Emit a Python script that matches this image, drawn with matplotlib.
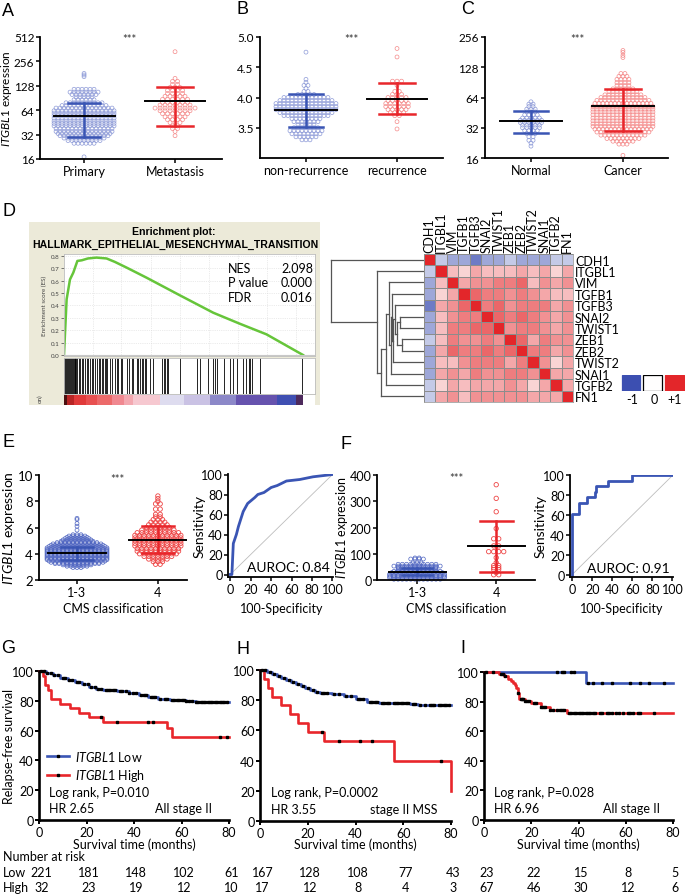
import numpy as np
import matplotlib
matplotlib.use('Agg')
import matplotlib.pyplot as plt
from matplotlib.colors import LinearSegmentedColormap
from matplotlib.lines import Line2D
from matplotlib.ticker import NullLocator
from matplotlib.transforms import blended_transform_factory

plt.rcParams['font.family'] = ['Lato', 'DejaVu Sans']
plt.rcParams['mathtext.fontset'] = 'custom'
plt.rcParams['mathtext.it'] = 'Lato:italic'
plt.rcParams['mathtext.rm'] = 'Lato'

BLUE = '#3a55b4'
RED = '#e8262b'
BLUE_DOT = '#8e9bd8'
RED_DOT = '#f58a8a'
BLUE_DOT2 = '#5066c2'
RED_DOT2 = '#ee4545'
ITG = r'$\it{ITGBL1}$ expression'
FS = 9

# ---------------- data ----------------
# A  (row level, dots per row)
a_cats = ['Primary', 'Metastasis']
a_prim_lv = [17, 25, 27, 29, 31, 33, 35, 38, 41, 44, 47, 51, 55, 59, 63, 68, 73, 79, 86, 93, 100, 107, 116, 166, 174, 182]
a_prim_n = [1, 6, 9, 11, 13, 14, 15, 15, 16, 16, 16, 16, 16, 16, 16, 15, 12, 10, 6, 5, 7, 8, 6, 1, 1, 1]
a_met_lv = [31, 35, 38, 41, 45, 49, 53, 58, 63, 68, 74, 80, 87, 95, 103, 112, 122, 133, 145, 158, 337]
a_met_n = [1, 1, 2, 2, 3, 4, 5, 6, 7, 9, 7, 6, 6, 5, 4, 4, 3, 2, 2, 1, 1]
a_mean = [53.8, 84]
a_lo = [30.3, 40.8]
a_hi = [78, 124]

# B
b_cats = ['non-recurrence', 'recurrence']
b_non_lv = [3.30, 3.35, 3.40, 3.45, 3.50, 3.55, 3.60, 3.65, 3.70, 3.75, 3.80, 3.85, 3.90, 3.95, 4.00, 4.05, 4.10, 4.15, 4.20, 4.25, 4.30, 4.75]
b_non_n = [3, 6, 8, 9, 7, 5, 7, 8, 12, 14, 16, 16, 16, 14, 12, 5, 2, 1, 2, 1, 1, 1]
b_rec_lv = [3.48, 3.60, 3.70, 3.75, 3.80, 3.85, 3.90, 3.95, 4.00, 4.05, 4.10, 4.20, 4.27, 4.67, 4.81]
b_rec_n = [1, 1, 2, 4, 5, 6, 6, 5, 5, 3, 2, 1, 3, 1, 1]
b_mean = [3.79, 3.98]
b_lo = [3.51, 3.73]
b_hi = [4.06, 4.24]

# C
c_cats = ['Normal', 'Cancer']
c_nor_lv = [21, 22.5, 24, 26, 28, 30, 32, 34, 36, 38, 40, 43, 46, 49, 52, 55, 58]
c_nor_n = [1, 1, 2, 2, 3, 4, 5, 5, 6, 6, 5, 4, 3, 3, 2, 2, 1]
c_can_lv = [17, 22, 23.5, 25, 27, 29, 31, 33, 35, 37.5, 40, 43, 46, 49, 52, 56, 60, 64, 68, 73, 78, 84, 90, 97, 104, 111, 160, 168, 180, 188]
c_can_n = [1, 3, 6, 9, 12, 14, 15, 16, 16, 16, 16, 16, 16, 16, 16, 15, 14, 12, 10, 8, 6, 4, 4, 4, 3, 2, 1, 1, 1, 1]
c_mean = [37, 53]
c_lo = [28.3, 29.5]
c_hi = [46.5, 78]

# D  GSEA
es_x = [0, 0.011, 0.025, 0.039, 0.056, 0.074, 0.10, 0.136, 0.178, 0.213, 0.262, 0.345, 0.485, 0.624, 0.735, 0.847, 1.0]
es_y = [0, 0.45, 0.61, 0.666, 0.76, 0.765, 0.78, 0.787, 0.78, 0.752, 0.706, 0.625, 0.482, 0.342, 0.253, 0.167, 0.0]
hits = [0.000, 0.004, 0.008, 0.012, 0.016, 0.020, 0.024, 0.028, 0.032, 0.036, 0.040, 0.044, 0.048, 0.052,
        0.056, 0.061, 0.067, 0.074, 0.081, 0.088, 0.095, 0.102, 0.109, 0.116, 0.123, 0.130, 0.136, 0.145,
        0.150, 0.157, 0.164, 0.171, 0.175, 0.181, 0.192, 0.199, 0.213, 0.220, 0.227, 0.237, 0.241, 0.262,
        0.273, 0.283, 0.290, 0.304, 0.311, 0.318, 0.325, 0.331, 0.338, 0.345, 0.359, 0.373, 0.412, 0.418,
        0.423, 0.429, 0.436, 0.485, 0.558, 0.568, 0.603, 0.624, 0.631, 0.638, 0.669, 0.694, 0.708, 0.724,
        0.747, 0.763, 0.774, 0.780, 0.788, 0.819, 0.996]
rank_edges = [0, 0.012, 0.04, 0.09, 0.14, 0.20, 0.25, 0.29, 0.40, 0.50, 0.61, 0.72, 0.89, 0.97, 1.0]
rank_cols = ['#4a1010', '#b82525', '#e03a3a', '#e85050', '#ec6a6a', '#f08890', '#f3a8b0', '#f6c8d0',
             '#dedcef', '#cac2e4', '#8c88c8', '#6653ae', '#3f4fb2', '#4d2a5c']
gsea_stats = [('NES', '2.098'), ('P value', '0.000'), ('FDR', '0.016')]

genes = ['CDH1', 'ITGBL1', 'VIM', 'TGFB1', 'TGFB3', 'SNAI2', 'TWIST1', 'ZEB1', 'ZEB2', 'TWIST2', 'SNAI1', 'TGFB2', 'FN1']
corr = np.array([
    [1.0, -0.3, -0.5, -0.5, -0.75, -0.5, -0.5, -0.3, -0.5, -0.5, -0.5, -0.3, -0.3],
    [-0.3, 1.0, 0.3, 0.2, 0.4, 0.3, 0.3, 0.3, 0.4, 0.3, 0.4, 0.2, 0.4],
    [-0.5, 0.3, 1.0, 0.4, 0.5, 0.5, 0.6, 0.6, 0.7, 0.3, 0.5, 0.4, 0.5],
    [-0.5, 0.2, 0.4, 1.0, 0.7, 0.6, 0.6, 0.5, 0.6, 0.5, 0.4, 0.3, 0.3],
    [-0.75, 0.4, 0.5, 0.7, 1.0, 0.6, 0.7, 0.5, 0.6, 0.6, 0.6, 0.4, 0.5],
    [-0.5, 0.3, 0.5, 0.6, 0.6, 1.0, 0.7, 0.6, 0.7, 0.6, 0.5, 0.4, 0.5],
    [-0.5, 0.3, 0.6, 0.6, 0.7, 0.7, 1.0, 0.5, 0.6, 0.6, 0.5, 0.4, 0.5],
    [-0.3, 0.3, 0.6, 0.5, 0.5, 0.6, 0.5, 1.0, 0.7, 0.4, 0.6, 0.5, 0.5],
    [-0.5, 0.4, 0.7, 0.6, 0.6, 0.7, 0.6, 0.7, 1.0, 0.6, 0.6, 0.4, 0.5],
    [-0.5, 0.3, 0.3, 0.5, 0.6, 0.6, 0.6, 0.4, 0.6, 1.0, 0.5, 0.2, 0.4],
    [-0.5, 0.4, 0.5, 0.4, 0.6, 0.5, 0.5, 0.6, 0.6, 0.5, 1.0, 0.4, 0.4],
    [-0.3, 0.2, 0.4, 0.3, 0.4, 0.4, 0.4, 0.5, 0.4, 0.2, 0.4, 1.0, 0.4],
    [-0.3, 0.4, 0.5, 0.3, 0.5, 0.5, 0.5, 0.5, 0.5, 0.4, 0.4, 0.4, 1.0]])
# dendrogram links: (child a, child b, height)
links = [(5, 6, 24), (7, 8, 22), (13, 14, 27), (4, 15, 29), (16, 9, 31), (3, 17, 32.5),
         (18, 10, 33.5), (2, 19, 35), (20, 11, 38), (21, 12, 43), (1, 22, 47), (0, 23, 93)]

# E
e_cats = ['1-3', '4']
e_low_lv = [2.95, 3.05, 3.15, 3.25, 3.35, 3.45, 3.55, 3.65, 3.75, 3.85, 3.95, 4.05, 4.15, 4.25, 4.35, 4.45,
            4.55, 4.65, 4.75, 4.85, 4.95, 5.05, 5.15, 5.25, 5.35, 5.45, 5.8, 6.1, 6.3, 6.6, 6.7]
e_low_n = [3, 6, 8, 12, 14, 15, 16, 16, 16, 16, 16, 16, 16, 16, 16, 16, 15, 14, 13, 11, 9, 8, 7, 6, 5, 3, 1, 1, 1, 1, 1]
e_high_lv = [3.2, 3.4, 3.6, 3.8, 4.0, 4.2, 4.4, 4.6, 4.8, 5.0, 5.2, 5.4, 5.6, 5.8, 6.0, 6.2, 6.4, 6.6, 6.8, 7.0, 7.4, 7.8, 8.0, 8.2, 8.4]
e_high_n = [2, 3, 5, 7, 9, 10, 10, 11, 11, 11, 11, 11, 10, 8, 6, 5, 4, 3, 2, 2, 2, 2, 1, 1, 1]
e_mean = [4.03, 5.04]
e_lo = [3.55, 4.05]
e_hi = [4.5, 6.1]
e_roc_x = [0, 1.6, 3, 6, 8, 10.5, 12.7, 17, 24, 27, 33, 40, 46, 55, 68, 81, 100]
e_roc_y = [0, 0, 31, 40, 48, 56, 63, 71, 77, 80, 82, 87, 89, 93.5, 95, 97.7, 100]

# F
f_low_lv = [3, 8, 13, 18, 23, 28, 33, 38, 43, 48, 53, 60, 65, 80, 84]
f_low_n = [12, 14, 14, 14, 14, 13, 12, 10, 10, 10, 12, 10, 3, 4, 2]
f_high_lv = [20, 28, 40, 47, 55, 66, 85, 108, 130, 157, 196, 260, 311, 363]
f_high_n = [2, 1, 2, 2, 2, 1, 1, 4, 2, 2, 1, 1, 1, 1]
f_mean = [30, 130]
f_lo = [18, 32]
f_hi = [45, 225]
f_roc_x = [0, 0, 6.5, 6.5, 14.5, 14.5, 22.6, 22.6, 24, 24, 35.5, 35.5, 59.7, 59.7, 100]
f_roc_y = [0, 61.1, 61.1, 72.2, 72.2, 77.8, 77.8, 83.3, 83.3, 88.9, 88.9, 94.4, 94.4, 100, 100]

# G/H/I  Kaplan-Meier (step times, survival %), censor times
g_low_t = [0, 3, 6, 9, 12, 15, 18, 21, 24, 27, 33, 38, 42, 46, 50, 55, 62, 66]
g_low_s = [100, 98.5, 97, 95.5, 94, 92.5, 91, 89.5, 88, 87, 86.5, 85.5, 84, 82.5, 81.2, 80.5, 79.8, 79]
g_low_c = [1, 2, 3.5, 5, 6.5, 8, 10, 11, 12.5, 14, 16, 17, 19, 20.5, 22, 23.5, 25, 26, 28, 29, 30, 31, 32, 34,
           35, 36.5, 38, 39.5, 41, 43, 44, 45, 47, 48, 49, 51, 53, 54, 56, 57, 58, 59, 60, 61, 62, 63, 64.5,
           66, 67, 68, 69, 70, 71, 72, 73, 74, 75, 76, 77, 78, 79]
g_high_t = [0, 1.7, 2.7, 3.8, 4.9, 8.7, 13, 17, 21, 27, 54, 56]
g_high_s = [100, 96.9, 90.6, 87.5, 81.3, 78.1, 75, 71.9, 68.8, 65.6, 61.5, 55.4]
g_high_c = [26, 33, 46, 48, 76, 79]
g_risk_low = [221, 181, 148, 102, 61]
g_risk_high = [32, 23, 19, 12, 10]

h_low_t = [0, 3, 5, 7, 9, 11, 13, 15, 17, 19, 21, 23, 25, 30, 35, 40, 45, 50, 63, 66]
h_low_s = [100, 98.5, 97.3, 96, 95, 93.5, 92, 91, 89.6, 88, 86.7, 85.5, 84.7, 84, 82.5, 81, 78.5, 78, 77.4, 76.8]
h_low_c = [1, 2, 4, 6, 8, 10, 12, 14, 16, 18, 20, 22, 24, 26, 27, 28, 31, 33, 36, 38, 41, 42, 43, 46, 47, 48,
           49, 51, 52, 53, 54, 56, 57, 58, 59, 60, 61, 62, 64, 65, 67, 69, 71, 72, 73, 75, 76, 77, 78, 79]
h_high_t = [0, 1.7, 3.5, 4.9, 9, 12.6, 16, 20, 27, 56, 80]
h_high_s = [100, 94.1, 88.2, 82.4, 76.5, 70.6, 64.7, 58.8, 52.9, 39.7, 19.8]
h_high_c = [26, 33, 42, 47, 76]
h_risk_low = [167, 128, 108, 77, 43]
h_risk_high = [17, 12, 8, 4, 3]

i_low_t = [0, 43]
i_low_s = [100, 92.6]
i_low_c = [1, 4, 31, 33, 34, 37, 38, 44, 46, 50, 54, 62, 66, 70, 76]
i_high_t = [0, 6.5, 8.5, 10, 11.5, 12.3, 13, 13.7, 14.4, 15, 17.2, 20, 24, 27.8, 35]
i_high_s = [100, 98.5, 97, 95.5, 94, 92.5, 91, 89.5, 86, 82, 80.5, 79, 76.5, 74, 72]
i_high_c = [7, 8, 9, 14.5, 15.5, 16, 16.5, 17.5, 18, 19, 21, 22, 24, 25, 26, 28, 29, 31, 32, 33, 34, 36, 37,
            38, 39, 40, 41, 42, 43, 44, 45, 46, 47, 49, 50, 52, 53, 54, 56, 57, 59, 61, 62, 63, 65, 66, 72]
i_risk_low = [23, 22, 15, 8, 5]
i_risk_high = [67, 46, 30, 12, 6]
risk_times = [0, 20, 40, 60, 80]

# ---------------- figure ----------------
W, H = 685, 895
fig = plt.figure(figsize=(W / 100, H / 100), dpi=100)


def add_ax(l, t, r, b, **kw):
    return fig.add_axes([l / W, 1 - b / H, (r - l) / W, (b - t) / H], **kw)


def ftext(x, y, s, **kw):
    return fig.text(x / W, 1 - y / H, s, **kw)


def style(ax, fs=FS, lw=1.3):
    for sp in ['top', 'right']:
        ax.spines[sp].set_visible(False)
    for sp in ['left', 'bottom']:
        ax.spines[sp].set_linewidth(lw)
    ax.tick_params(direction='out', length=3, width=1.1, labelsize=fs, pad=1.5)


def dots(ax, xc, lv, n, dx, color, s=8, lw=0.5):
    xs, ys = [], []
    for v, k in zip(lv, n):
        for j in range(k):
            xs.append(xc + (j - (k - 1) / 2) * dx)
            ys.append(v)
    ax.scatter(xs, ys, s=s, facecolors='none', edgecolors=color, linewidths=lw, zorder=2, clip_on=False)


def meanbar(ax, xc, m, lo, hi, color, wm, wc):
    ax.plot([xc, xc], [lo, hi], color=color, lw=1.8, zorder=3)
    ax.plot([xc - wc / 2, xc + wc / 2], [lo, lo], color=color, lw=1.8, zorder=3)
    ax.plot([xc - wc / 2, xc + wc / 2], [hi, hi], color=color, lw=1.8, zorder=3)
    ax.plot([xc - wm / 2, xc + wm / 2], [m, m], color='black', lw=1.4, zorder=4)


def letter(x, y, s):
    ftext(x, y, s, fontsize=13, ha='left', va='center', family=['Liberation Sans', 'DejaVu Sans'])


def stars(ax, x, y):
    ax.text(x, y, '***', ha='center', va='center', fontsize=8, color='#333333')


# ---- A ----
ax = add_ax(40, 38, 222, 160)
style(ax, fs=8.5)
ax.tick_params(axis='x', labelsize=FS)
ax.tick_params(axis='y', pad=1)
dots(ax, 0, a_prim_lv, a_prim_n, 4.0 / 91, BLUE_DOT)
dots(ax, 1, a_met_lv, a_met_n, 5.0 / 91, RED_DOT)
meanbar(ax, 0, a_mean[0], a_lo[0], a_hi[0], BLUE, 0.67, 0.35)
meanbar(ax, 1, a_mean[1], a_lo[1], a_hi[1], RED, 0.66, 0.40)
ax.set_yscale('log', base=2)
ax.set_ylim(16, 512)
ax.set_yticks([16, 32, 64, 128, 256, 512])
ax.set_yticklabels(['16', '32', '64', '128', '256', '512'])
ax.yaxis.set_minor_locator(NullLocator())
ax.set_xlim(-0.484, 1.516)
ax.set_xticks([0, 1])
ax.set_xticklabels(a_cats)
stars(ax, 0.5, 490)
ftext(7, 99, ITG, rotation=90, ha='center', va='center', fontsize=8.5)
letter(2, 12, 'A')

# ---- B ----
ax = add_ax(260, 38, 443, 159)
style(ax, fs=8.5)
ax.tick_params(axis='x', labelsize=FS)
dots(ax, 0, b_non_lv, b_non_n, 4.0 / 91, BLUE_DOT)
dots(ax, 1, b_rec_lv, b_rec_n, 4.5 / 91, RED_DOT)
meanbar(ax, 0, b_mean[0], b_lo[0], b_hi[0], BLUE, 0.68, 0.38)
meanbar(ax, 1, b_mean[1], b_lo[1], b_hi[1], RED, 0.66, 0.40)
ax.set_ylim(3.0, 5.0)
ax.set_yticks([3.5, 4.0, 4.5, 5.0])
ax.set_yticklabels(['3.5', '4.0', '4.5', '5.0'])
ax.set_xlim(-0.505, 1.505)
ax.set_xticks([0, 1])
ax.set_xticklabels(b_cats)
stars(ax, 0.5, 4.98)
letter(236, 10, 'B')

# ---- C ----
ax = add_ax(485, 38, 668, 159)
style(ax, fs=8.5)
ax.tick_params(axis='x', labelsize=FS)
dots(ax, 0, c_nor_lv, c_nor_n, 4.2 / 92, BLUE_DOT)
dots(ax, 1, c_can_lv, c_can_n, 4.0 / 92, RED_DOT)
meanbar(ax, 0, c_mean[0], c_lo[0], c_hi[0], BLUE, 0.68, 0.36)
meanbar(ax, 1, c_mean[1], c_lo[1], c_hi[1], RED, 0.67, 0.40)
ax.set_yscale('log', base=2)
ax.set_ylim(16, 256)
ax.set_yticks([16, 32, 64, 128, 256])
ax.set_yticklabels(['16', '32', '64', '128', '256'])
ax.yaxis.set_minor_locator(NullLocator())
ax.set_xlim(-0.5, 1.49)
ax.set_xticks([0, 1])
ax.set_xticklabels(c_cats)
stars(ax, 0.5, 245)
letter(461, 10, 'C')

# ---- D: GSEA ----
letter(2, 211, 'D')
bg = add_ax(29, 223, 320, 406)
bg.set_facecolor('#ecead9')
bg.set_xticks([])
bg.set_yticks([])
for sp in bg.spines.values():
    sp.set_visible(False)
ftext(174, 232, 'Enrichment plot:', ha='center', va='center', fontsize=7.6, weight='bold',
      family=['Liberation Sans', 'DejaVu Sans'])
ftext(175, 245, 'HALLMARK_EPITHELIAL_MESENCHYMAL_TRANSITION', ha='center', va='center', fontsize=7.6,
      weight='bold', family=['Liberation Sans', 'DejaVu Sans'])

es = add_ax(64, 255, 315, 357)
es.plot(es_x, es_y, color='#66c53a', lw=1.8)
es.axhline(0, color='#c8c8c8', lw=0.8)
es.set_xlim(0, 1.05)
es.set_ylim(-0.008, 0.816)
es.set_yticks([0, 0.1, 0.2, 0.3, 0.4, 0.5, 0.6, 0.7, 0.8])
es.set_yticklabels(['0.0', '0.1', '0.2', '0.3', '0.4', '0.5', '0.6', '0.7', '0.8'])
es.set_xticks([0.122, 0.240, 0.362, 0.485, 0.606, 0.727, 0.848, 0.97])
es.grid(True, color='#d8d8d8', lw=0.5, ls=':')
es.tick_params(axis='x', length=0, labelbottom=False)
es.tick_params(axis='y', length=2, width=0.5, labelsize=4.5, pad=1, colors='#444444')
for sp in es.spines.values():
    sp.set_color('#bdbdbd')
    sp.set_linewidth(0.6)
ftext(44, 306, 'Enrichment score (ES)', rotation=90, ha='center', va='center', fontsize=4.5, color='#444444')
for i, (k, v) in enumerate(gsea_stats):
    ftext(228, 269 + i * 14.5, k, ha='left', va='center', fontsize=FS)
    ftext(281, 269 + i * 14.5, v, ha='left', va='center', fontsize=FS)

hit = add_ax(64, 359, 315, 395)
hit.vlines(hits, 0, 1, color='black', lw=0.6)
hit.set_xlim(0, 1.05)
hit.set_ylim(0, 1)
hit.set_xticks([])
hit.set_yticks([])
for sp in hit.spines.values():
    sp.set_color('#bdbdbd')
    sp.set_linewidth(0.6)

rk = add_ax(64, 396, 315, 406)
for i, c in enumerate(rank_cols):
    rk.axvspan(rank_edges[i], rank_edges[i + 1], color=c, lw=0)
rk.set_xlim(0, 1.05)
rk.set_ylim(0, 1)
rk.set_xticks([])
rk.set_yticks([])
for sp in rk.spines.values():
    sp.set_visible(False)
ftext(40, 399, 'on)', rotation=90, ha='center', va='center', fontsize=4.5, color='#444444')

# heatmap
cmap = LinearSegmentedColormap.from_list('bwr_d', ['#3c4fb1', '#ffffff', '#e3262a'])
hm = add_ax(424, 255, 573, 403)
hm.pcolormesh(corr, cmap=cmap, vmin=-1, vmax=1, edgecolors='#8c8c8c', linewidth=0.5)
hm.set_xlim(0, 13)
hm.set_ylim(13, 0)
hm.xaxis.tick_top()
hm.yaxis.tick_right()
hm.set_xticks(np.arange(13) + 0.5)
hm.set_xticklabels(genes, rotation=90, fontsize=FS)
hm.set_yticks(np.arange(13) + 0.5)
hm.set_yticklabels(genes, fontsize=FS)
hm.tick_params(length=0, pad=1.5)
for sp in hm.spines.values():
    sp.set_color('#8c8c8c')
    sp.set_linewidth(0.5)

dd = add_ax(325, 255, 424, 403)
pos = {i: (i + 0.5, 0.0) for i in range(13)}
for k, (a, b, h) in enumerate(links):
    ya, ha_ = pos[a]
    yb, hb = pos[b]
    dd.plot([h, h], [ya, yb], color='#555555', lw=0.9)
    dd.plot([ha_, h], [ya, ya], color='#555555', lw=0.9)
    dd.plot([hb, h], [yb, yb], color='#555555', lw=0.9)
    pos[13 + k] = ((ya + yb) / 2, h)
dd.set_xlim(99, 0)
dd.set_ylim(13, 0)
dd.axis('off')

lg = add_ax(621, 376, 685, 392)
lg_vals = [-1, 0, 1]
for i, v in enumerate(lg_vals):
    lg.add_patch(plt.Rectangle((i * 1.05 + 0.03, 0.02), 0.9, 0.96, facecolor=cmap((v + 1) / 2),
                               edgecolor='black' if v == 0 else cmap((v + 1) / 2), lw=0.9))
lg.set_xlim(0, 3.1)
lg.set_ylim(0, 1)
lg.axis('off')
for x, s in zip([632, 654, 675], ['-1', '0', '+1']):
    ftext(x, 400, s, ha='center', va='center', fontsize=FS)

# ---- E ----
letter(3, 443, 'E')
ax = add_ax(39, 476, 187, 581)
style(ax, fs=9.5)
dots(ax, 0, e_low_lv, e_low_n, 4.0 / 81, BLUE_DOT2)
dots(ax, 1, e_high_lv, e_high_n, 4.6 / 81, RED_DOT2, s=10, lw=0.6)
meanbar(ax, 0, e_mean[0], e_lo[0], e_hi[0], BLUE, 0.72, 0.40)
meanbar(ax, 1, e_mean[1], e_lo[1], e_hi[1], RED, 0.72, 0.40)
ax.set_ylim(2, 10)
ax.set_yticks([2, 4, 6, 8, 10])
ax.set_xlim(-0.47, 1.36)
ax.set_xticks([0, 1])
ax.set_xticklabels(e_cats, fontsize=FS)
stars(ax, 0.5, 9.7)
ftext(9, 528, ITG, rotation=90, ha='center', va='center', fontsize=10)
ftext(113, 609, 'CMS classification', ha='center', va='center', fontsize=FS)

ax = add_ax(228, 475, 333, 578)
style(ax, fs=9)
ax.plot([0, 100], [0, 100], color='#bdbdbd', lw=0.6)
ax.plot(e_roc_x, e_roc_y, color=BLUE, lw=2.0)
ax.set_xlim(-2.2, 100.5)
ax.set_ylim(-2.5, 100.5)
ax.set_xticks([0, 20, 40, 60, 80, 100])
ax.set_yticks([0, 20, 40, 60, 80, 100])
ax.tick_params(axis='y', pad=1)
ax.text(97, 7, 'AUROC: 0.84', ha='right', va='center', fontsize=10)
ftext(200, 527, 'Sensitivity', rotation=90, ha='center', va='center', fontsize=10)
ftext(282, 609, '100-Specificity', ha='center', va='center', fontsize=FS)

# ---- F ----
letter(340, 445, 'F')
ax = add_ax(377, 476, 535, 581)
style(ax, fs=9.0)
dots(ax, 0, f_low_lv, f_low_n, 4.2 / 79, BLUE_DOT2)
dots(ax, 1, f_high_lv, f_high_n, 5.0 / 79, RED_DOT2, s=10, lw=0.6)
meanbar(ax, 0, f_mean[0], f_lo[0], f_hi[0], BLUE, 0.72, 0.38)
meanbar(ax, 1, f_mean[1], f_lo[1], f_hi[1], RED, 0.72, 0.42)
ax.set_ylim(0, 400)
ax.set_yticks([0, 100, 200, 300, 400])
ax.set_xlim(-0.506, 1.49)
ax.set_xticks([0, 1])
ax.set_xticklabels(e_cats, fontsize=FS)
ax.tick_params(axis='y', pad=1)
stars(ax, 0.5, 390)
ftext(342, 528, ITG, rotation=90, ha='center', va='center', fontsize=9)
ftext(456, 609, 'CMS classification', ha='center', va='center', fontsize=FS)

ax = add_ax(570, 476, 673, 578)
style(ax, fs=9)
ax.plot([0, 100], [0, 100], color='#bdbdbd', lw=0.6)
ax.plot(f_roc_x, f_roc_y, color=BLUE, lw=2.0)
ax.set_xlim(-2.2, 100.5)
ax.set_ylim(-2.5, 100.5)
ax.set_xticks([0, 20, 40, 60, 80, 100])
ax.set_yticks([0, 20, 40, 60, 80, 100])
ax.tick_params(axis='y', pad=1)
ax.text(97, 7, 'AUROC: 0.91', ha='right', va='center', fontsize=10)
ftext(541, 527, 'Sensitivity', rotation=90, ha='center', va='center', fontsize=10)
ftext(622, 609, '100-Specificity', ha='center', va='center', fontsize=FS)


# ---- G/H/I ----
def km(ax, t, s, cens, color, t_end=80):
    ax.step(list(t) + [t_end], list(s) + [s[-1]], where='post', color=color, lw=1.9, clip_on=False)
    idx = np.searchsorted(t, cens, side='right') - 1
    ax.plot(cens, np.array(s)[idx], 's', color='black', ms=2.0, clip_on=False, zorder=5)


def km_axes(l, t, r, b):
    ax = add_ax(l, t, r, b)
    style(ax, fs=FS, lw=1.9)
    ax.set_xlim(0, 80)
    ax.set_ylim(0, 100)
    ax.set_xticks([0, 20, 40, 60, 80])
    ax.set_yticks([0, 20, 40, 60, 80, 100])
    ax.tick_params(width=1.4, pad=1)
    return ax


def risk(ax, low, high):
    tr = blended_transform_factory(ax.transData, fig.transFigure)
    for tt, lo, hi in zip(risk_times, low, high):
        ax.text(tt + 1, 1 - 873 / H, str(lo), transform=tr, ha='center', va='center', fontsize=FS)
        ax.text(tt + 1, 1 - 888 / H, str(hi), transform=tr, ha='center', va='center', fontsize=FS)


axg = km_axes(39, 672, 229, 821)
km(axg, g_low_t, g_low_s, g_low_c, BLUE)
km(axg, g_high_t, g_high_s, g_high_c, RED)
handles = [Line2D([], [], color=BLUE, lw=1.9, marker='s', ms=2, mfc='black', mec='black'),
           Line2D([], [], color=RED, lw=1.9, marker='s', ms=2, mfc='black', mec='black')]
axg.legend(handles, [r'$\it{ITGBL1}$ Low', r'$\it{ITGBL1}$ High'], loc='upper left',
           bbox_to_anchor=(0.0, 0.53), frameon=False, fontsize=FS, handlelength=1.8, handletextpad=0.5,
           labelspacing=0.35, borderaxespad=0.2)
axg.text(0.055, 0.19, 'Log rank, P=0.010', transform=axg.transAxes, fontsize=FS, va='center')
axg.text(0.055, 0.08, 'HR 2.65', transform=axg.transAxes, fontsize=FS, va='center')
axg.text(0.91, 0.08, 'All stage II', transform=axg.transAxes, fontsize=FS, va='center', ha='right')
ftext(9, 746, 'Relapse-free survival', rotation=90, ha='center', va='center', fontsize=FS)
ftext(134, 845, 'Survival time (months)', ha='center', va='center', fontsize=FS)
risk(axg, g_risk_low, g_risk_high)
letter(1, 649, 'G')

axh = km_axes(260, 671, 451, 822)
km(axh, h_low_t, h_low_s, h_low_c, BLUE)
km(axh, h_high_t, h_high_s, h_high_c, RED)
axh.text(0.055, 0.19, 'Log rank, P=0.0002', transform=axh.transAxes, fontsize=FS, va='center')
axh.text(0.055, 0.08, 'HR 3.55', transform=axh.transAxes, fontsize=FS, va='center')
axh.text(0.93, 0.08, 'stage II MSS', transform=axh.transAxes, fontsize=FS, va='center', ha='right')
ftext(355, 845, 'Survival time (months)', ha='center', va='center', fontsize=FS)
risk(axh, h_risk_low, h_risk_high)
letter(237, 650, 'H')

axi = km_axes(484, 673, 673, 821)
km(axi, i_low_t, i_low_s, i_low_c, BLUE)
km(axi, i_high_t, i_high_s, i_high_c, RED)
axi.text(0.055, 0.19, 'Log rank, P=0.028', transform=axi.transAxes, fontsize=FS, va='center')
axi.text(0.055, 0.08, 'HR 6.96', transform=axi.transAxes, fontsize=FS, va='center')
axi.text(0.93, 0.08, 'All stage II', transform=axi.transAxes, fontsize=FS, va='center', ha='right')
ftext(578, 845, 'Survival time (months)', ha='center', va='center', fontsize=FS)
risk(axi, i_risk_low, i_risk_high)
letter(460, 649, 'I')

ftext(3, 857, 'Number at risk', ha='left', va='center', fontsize=FS)
ftext(3, 873, 'Low', ha='left', va='center', fontsize=FS)
ftext(3, 888, 'High', ha='left', va='center', fontsize=FS)

fig.savefig('out.png', dpi=100)
